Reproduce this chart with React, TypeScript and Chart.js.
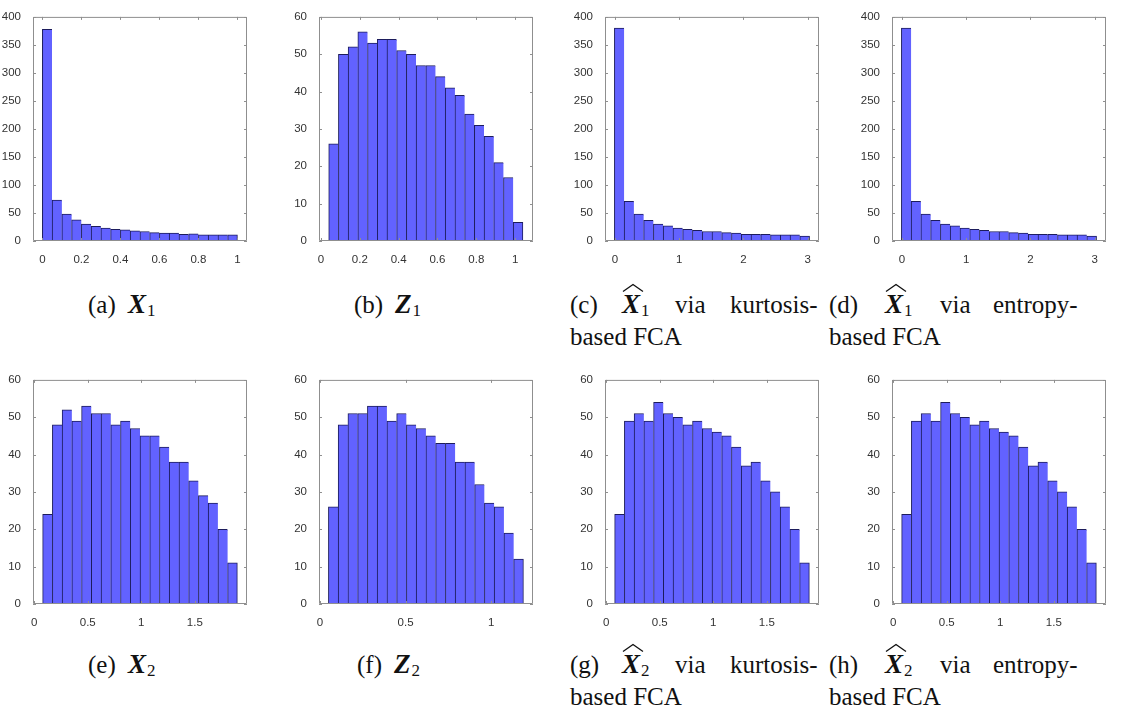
import React, { useEffect, useRef } from 'react';
import { Chart, registerables } from 'chart.js';

Chart.register(...registerables);

// ---------------- data (bar counts) ----------------
const countsX1 = [378, 73, 48, 38, 30, 26, 23, 21, 20, 18, 17, 15, 14, 14, 12, 13, 11, 11, 11, 11];
const countsZ1 = [26, 50, 52, 56, 53, 54, 54, 51, 50, 47, 47, 44, 41, 39, 34, 31, 28, 21, 17, 5];
const countsX1hatKurtosis = [380, 71, 48, 37, 30, 27, 23, 21, 19, 17, 17, 15, 14, 12, 12, 12, 11, 11, 11, 9];
const countsX1hatEntropy = [380, 71, 48, 37, 30, 27, 23, 21, 19, 17, 17, 15, 14, 12, 12, 12, 11, 11, 11, 9];
const countsX2 = [24, 48, 52, 49, 53, 51, 51, 48, 49, 47, 45, 45, 42, 38, 38, 33, 29, 27, 20, 11];
const countsZ2 = [26, 48, 51, 51, 53, 53, 49, 51, 48, 47, 45, 43, 43, 38, 38, 32, 27, 26, 19, 12];
const countsX2hatKurtosis = [24, 49, 51, 49, 54, 51, 50, 48, 49, 47, 46, 45, 42, 37, 38, 33, 30, 26, 20, 11];
const countsX2hatEntropy = [24, 49, 51, 49, 54, 51, 50, 48, 49, 47, 46, 45, 42, 37, 38, 33, 30, 26, 20, 11];

// bin layout: [first bin edge, bin width]
const binsX1 = [0, 0.05];
const binsZ1 = [0.04, 0.05];
const binsX1hat = [-0.01, 0.152];
const binsX2 = [0.079, 0.0909];
const binsZ2 = [0.049, 0.057];

// axis limits
const xLimX1 = [-0.048, 1.049];
const xLimZ1 = [-0.01, 1.092];
const xLimX1hat = [-0.156, 3.177];
const xLimX2 = [-0.011, 1.987];
const xLimZ2 = [-0.006, 1.245];

// tick values
const xTicksUnit5 = [0, 0.2, 0.4, 0.6, 0.8, 1];
const xTicksX1hat = [0, 1, 2, 3];
const xTicksX2 = [0, 0.5, 1, 1.5];
const xTicksZ2 = [0, 0.5, 1];
const yTicks400 = [0, 50, 100, 150, 200, 250, 300, 350, 400];
const yTicks60 = [0, 10, 20, 30, 40, 50, 60];

// ---------------- styling / layout ----------------
const BAR_FILL = 'rgb(98, 98, 255)';
const BAR_EDGE = 'rgb(28, 28, 92)';
const BOX_COLOR = '#8f8f8f';
const TICK_TEXT = '#333333';
const TICK_FONT = { family: '"Liberation Sans", Arial, sans-serif', size: 11.5 };

const PLOT_W = 214;
const PLOT_H = 225;
const Y_AXIS_W = 40;
const X_AXIS_H = 24;
const PAD_T = 10;
const PAD_R = 10;

const COL_LEFT = [33, 319, 605, 892];
const ROW_TOP = [16, 379];

interface PanelSpec {
  counts: number[];
  bins: number[];
  xLim: number[];
  xTicks: number[];
  yTicks: number[];
  col: number;
  row: number;
}

const panels: PanelSpec[] = [
  { counts: countsX1, bins: binsX1, xLim: xLimX1, xTicks: xTicksUnit5, yTicks: yTicks400, col: 0, row: 0 },
  { counts: countsZ1, bins: binsZ1, xLim: xLimZ1, xTicks: xTicksUnit5, yTicks: yTicks60, col: 1, row: 0 },
  { counts: countsX1hatKurtosis, bins: binsX1hat, xLim: xLimX1hat, xTicks: xTicksX1hat, yTicks: yTicks400, col: 2, row: 0 },
  { counts: countsX1hatEntropy, bins: binsX1hat, xLim: xLimX1hat, xTicks: xTicksX1hat, yTicks: yTicks400, col: 3, row: 0 },
  { counts: countsX2, bins: binsX2, xLim: xLimX2, xTicks: xTicksX2, yTicks: yTicks60, col: 0, row: 1 },
  { counts: countsZ2, bins: binsZ2, xLim: xLimZ2, xTicks: xTicksZ2, yTicks: yTicks60, col: 1, row: 1 },
  { counts: countsX2hatKurtosis, bins: binsX2, xLim: xLimX2, xTicks: xTicksX2, yTicks: yTicks60, col: 2, row: 1 },
  { counts: countsX2hatEntropy, bins: binsX2, xLim: xLimX2, xTicks: xTicksX2, yTicks: yTicks60, col: 3, row: 1 },
];

const boxPlugin = {
  id: 'matlabBox',
  afterDatasetsDraw(chart: any) {
    const { ctx, chartArea: a, scales } = chart;
    const tl = 3;
    ctx.save();
    ctx.strokeStyle = BOX_COLOR;
    ctx.lineWidth = 1;
    ctx.beginPath();
    ctx.rect(a.left + 0.5, a.top + 0.5, a.right - a.left - 1, a.bottom - a.top - 1);
    for (const t of scales.x.ticks) {
      const px = Math.round(scales.x.getPixelForValue(t.value)) + 0.5;
      ctx.moveTo(px, a.bottom);
      ctx.lineTo(px, a.bottom - tl);
      ctx.moveTo(px, a.top);
      ctx.lineTo(px, a.top + tl);
    }
    for (const t of scales.y.ticks) {
      const py = Math.round(scales.y.getPixelForValue(t.value)) + 0.5;
      ctx.moveTo(a.left, py);
      ctx.lineTo(a.left + tl, py);
      ctx.moveTo(a.right, py);
      ctx.lineTo(a.right - tl, py);
    }
    ctx.stroke();
    ctx.restore();
  },
};

function Histogram({ spec }: { spec: PanelSpec }) {
  const ref = useRef<HTMLCanvasElement | null>(null);
  useEffect(() => {
    if (!ref.current) return;
    const [start, width] = spec.bins;
    const last = spec.counts.length - 1;
    const data = spec.counts.map((c, i) => ({ x: start + width * (i + 0.5), y: c }));
    const chart = new Chart(ref.current, {
      type: 'bar',
      data: {
        datasets: [
          {
            data,
            backgroundColor: BAR_FILL,
            borderColor: BAR_EDGE,
            borderWidth: (ctx: any) => ({ left: 1, top: 1, bottom: 0, right: ctx.dataIndex === last ? 1 : 0 }),
            borderSkipped: false,
            barPercentage: 1,
            categoryPercentage: 1,
          } as any,
        ],
      },
      options: {
        responsive: false,
        animation: false,
        events: [],
        layout: { padding: { top: PAD_T, right: PAD_R, left: 0, bottom: 0 } },
        plugins: { legend: { display: false }, tooltip: { enabled: false }, title: { display: false } },
        scales: {
          x: {
            type: 'linear',
            min: spec.xLim[0],
            max: spec.xLim[1],
            offset: false,
            grid: { display: false },
            border: { display: false },
            afterBuildTicks: (s: any) => {
              s.ticks = spec.xTicks.map((v) => ({ value: v }));
            },
            afterFit: (s: any) => {
              s.height = X_AXIS_H;
            },
            ticks: {
              autoSkip: false,
              maxRotation: 0,
              padding: 4,
              color: TICK_TEXT,
              font: TICK_FONT,
              callback: (v: any) => String(v),
            },
          },
          y: {
            type: 'linear',
            min: spec.yTicks[0],
            max: spec.yTicks[spec.yTicks.length - 1],
            grid: { display: false },
            border: { display: false },
            afterBuildTicks: (s: any) => {
              s.ticks = spec.yTicks.map((v) => ({ value: v }));
            },
            afterFit: (s: any) => {
              s.width = Y_AXIS_W;
            },
            ticks: {
              autoSkip: false,
              padding: 4,
              color: TICK_TEXT,
              font: TICK_FONT,
              callback: (v: any) => String(v),
            },
          },
        },
      } as any,
      plugins: [boxPlugin],
    });
    return () => chart.destroy();
  }, [spec]);

  const left = COL_LEFT[spec.col] - Y_AXIS_W;
  const top = ROW_TOP[spec.row] - PAD_T;
  return (
    <canvas
      ref={ref}
      width={Y_AXIS_W + PLOT_W + PAD_R}
      height={PAD_T + PLOT_H + X_AXIS_H}
      style={{ position: 'absolute', left, top, width: Y_AXIS_W + PLOT_W + PAD_R, height: PAD_T + PLOT_H + X_AXIS_H }}
    />
  );
}

// ---------------- captions ----------------
const SERIF = '"Liberation Serif", "Times New Roman", serif';
const CAP_SIZE = 25;
const ASC = 21;

interface Word { t: string; x: number }
interface MathTok { v: string; sub: string; hat: boolean; x: number }
interface CaptionSpec { words: Word[]; math: MathTok; line2?: Word[]; baseline: number }

const captions: CaptionSpec[] = [
  { words: [{ t: '(a)', x: 88 }], math: { v: 'X', sub: '1', hat: false, x: 128 }, baseline: 313 },
  { words: [{ t: '(b)', x: 354 }], math: { v: 'Z', sub: '1', hat: false, x: 395 }, baseline: 313 },
  {
    words: [{ t: '(c)', x: 570 }, { t: 'via', x: 675 }, { t: 'kurtosis-', x: 730 }],
    math: { v: 'X', sub: '1', hat: true, x: 622 },
    line2: [{ t: 'based FCA', x: 570 }],
    baseline: 313,
  },
  {
    words: [{ t: '(d)', x: 829 }, { t: 'via', x: 940 }, { t: 'entropy-', x: 993 }],
    math: { v: 'X', sub: '1', hat: true, x: 885 },
    line2: [{ t: 'based FCA', x: 829 }],
    baseline: 313,
  },
  { words: [{ t: '(e)', x: 88 }], math: { v: 'X', sub: '2', hat: false, x: 128 }, baseline: 673 },
  { words: [{ t: '(f)', x: 357 }], math: { v: 'Z', sub: '2', hat: false, x: 394 }, baseline: 673 },
  {
    words: [{ t: '(g)', x: 570 }, { t: 'via', x: 675 }, { t: 'kurtosis-', x: 730 }],
    math: { v: 'X', sub: '2', hat: true, x: 622 },
    line2: [{ t: 'based FCA', x: 570 }],
    baseline: 673,
  },
  {
    words: [{ t: '(h)', x: 829 }, { t: 'via', x: 940 }, { t: 'entropy-', x: 993 }],
    math: { v: 'X', sub: '2', hat: true, x: 885 },
    line2: [{ t: 'based FCA', x: 829 }],
    baseline: 673,
  },
];

const textStyle = (x: number, baseline: number): React.CSSProperties => ({
  position: 'absolute',
  left: x,
  top: baseline - ASC,
  fontFamily: SERIF,
  fontSize: CAP_SIZE,
  lineHeight: `${CAP_SIZE}px`,
  whiteSpace: 'nowrap',
  color: '#111',
});

function Caption({ c }: { c: CaptionSpec }) {
  const b2 = c.baseline + 32;
  return (
    <>
      {c.words.map((w, i) => (
        <span key={'w' + i} style={textStyle(w.x, c.baseline)}>{w.t}</span>
      ))}
      <span style={textStyle(c.math.x, c.baseline)}>
        <span style={{ fontWeight: 'bold', fontStyle: 'italic', fontSize: 27 }}>{c.math.v}</span>
        <span style={{ fontSize: 17, position: 'relative', top: 3, marginLeft: 1 }}>{c.math.sub}</span>
      </span>
      {c.math.hat && (
        <svg
          width={22}
          height={10}
          style={{ position: 'absolute', left: c.math.x, top: c.baseline - 30 }}
        >
          <path d="M1 8.5 L11 1.5 L21 8.5" fill="none" stroke="#111" strokeWidth={1.3} />
        </svg>
      )}
      {c.line2 &&
        c.line2.map((w, i) => (
          <span key={'l' + i} style={textStyle(w.x, b2)}>{w.t}</span>
        ))}
    </>
  );
}

export default function App() {
  return (
    <div
      style={{
        position: 'absolute',
        left: 0,
        top: 0,
        width: 1134,
        height: 715,
        background: '#ffffff',
        overflow: 'hidden',
      }}
    >
      {panels.map((p, i) => (
        <Histogram key={i} spec={p} />
      ))}
      {captions.map((c, i) => (
        <Caption key={'c' + i} c={c} />
      ))}
    </div>
  );
}
